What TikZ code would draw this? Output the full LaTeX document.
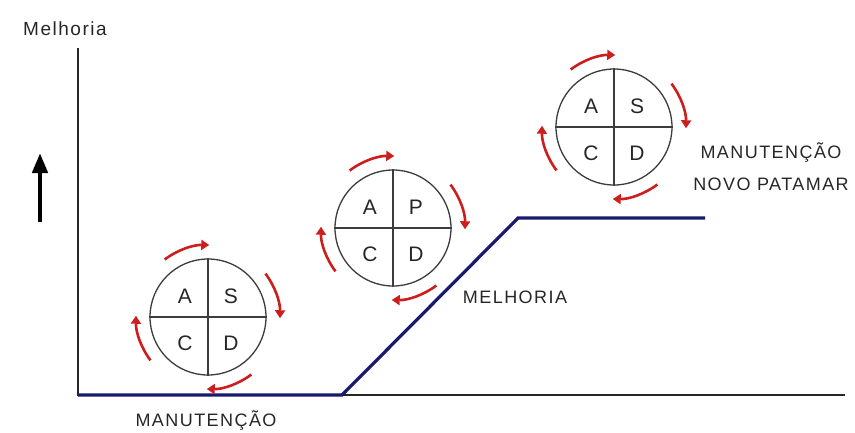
\documentclass[tikz,border=0pt]{standalone}
\usepackage{fontspec}
\setmainfont{Liberation Sans}
\newfontfamily\lblfont[LetterSpace=8]{Liberation Sans}
\usetikzlibrary{arrows.meta}
\definecolor{arrred}{RGB}{205,30,30}
\definecolor{navyline}{RGB}{25,25,110}
\definecolor{ringgray}{RGB}{60,60,60}
\tikzset{
  pdca/.style={circle, draw=ringgray, line width=1.3pt, minimum size=116pt, inner sep=0pt},
  quad/.style={draw=ringgray, line width=1.3pt},
  letter/.style={font=\lblfont\fontsize{21}{24}\selectfont, inner sep=0pt, text=black!85},
  cyc/.style={draw=arrred, line width=2.6pt, -{Triangle[length=8pt,width=10pt]}},
  lbl/.style={font=\lblfont\fontsize{18}{24}\selectfont, inner sep=0pt, text=black!85, align=center},
  axisline/.style={draw=black!85, line width=1.2pt},
  step line/.style={draw=navyline, line width=3.2pt, line join=miter},
}
\begin{document}
\begin{tikzpicture}[x=1pt,y=-1pt]
\useasboundingbox (0,0) rectangle (855,432);
% axes
\coordinate (o) at (78,395);
\coordinate (ytop) at (78,48);
\coordinate (xend) at (845,395);
\draw[axisline] (ytop) -- (o) -- (xend);
% step line
\coordinate (b0) at (78,395);
\coordinate (b1) at (342,395);
\coordinate (b2) at (518,218);
\coordinate (b3) at (705,218);
\draw[step line] (b0) -- (b1) -- (b2) -- (b3);
% y label and arrow
\node[lbl, font=\lblfont\fontsize{19}{22}\selectfont] (ylab) at (65,29) {Melhoria};
\coordinate (ua0) at (40,222);
\coordinate (ua1) at (40,153);
\draw[line width=4.5pt, -{Triangle[length=20pt,width=15pt]}] (ua0) -- (ua1);
% circles
\foreach \name/\cx/\cy/\tl/\tr in {c1/208/317/A/S, c2/393/228/A/P, c3/614/127/A/S}{
  \node[pdca] (\name) at (\cx,\cy) {};
  \draw[quad] (\name.north) -- (\name.south);
  \draw[quad] (\name.west) -- (\name.east);
  \node[letter] (\name a) at (\cx-23,\cy-21) {\tl};
  \node[letter] (\name b) at (\cx+23,\cy-21) {\tr};
  \node[letter] (\name c) at (\cx-23,\cy+26) {C};
  \node[letter] (\name d) at (\cx+23,\cy+26) {D};
  \draw[cyc] (\name) ++(-127:72) arc[start angle=-127, end angle=-89, radius=72];
  \draw[cyc] (\name) ++(-37:72) arc[start angle=-37, end angle=1, radius=72];
  \draw[cyc] (\name) ++(53:72) arc[start angle=53, end angle=91, radius=72];
  \draw[cyc] (\name) ++(143:72) arc[start angle=143, end angle=181, radius=72];
}
% labels
\node[lbl] (l1) at (206,420) {MANUTENÇÃO};
\node[lbl] (l2) at (515,297) {MELHORIA};
\node[lbl, align=center] (l3) at (771,167) {MANUTENÇÃO\\[8pt]NOVO PATAMAR};
\end{tikzpicture}
\end{document}
